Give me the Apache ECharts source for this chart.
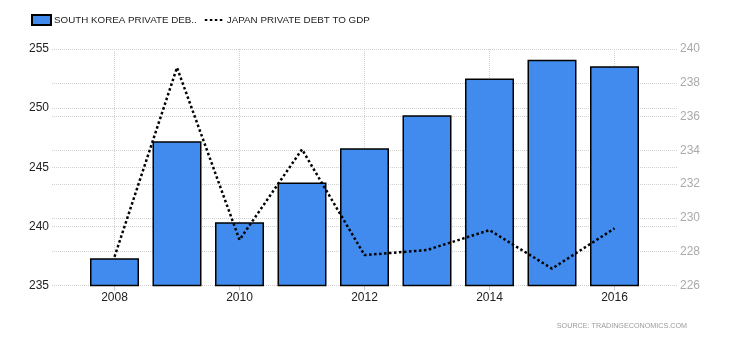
<!DOCTYPE html>
<html>
<head>
<meta charset="utf-8">
<script src="https://cdn.jsdelivr.net/npm/echarts@6/dist/echarts.min.js"></script>
<style>html,body{margin:0;padding:0;background:#fff}#c{width:730px;height:340px}</style>
</head>
<body>
<div id="c"></div>
<script>
var years = ['2008','2009','2010','2011','2012','2013','2014','2015','2016'];
var koreaDebt = [237.3, 247.2, 240.35, 243.7, 246.6, 249.4, 252.5, 254.1, 253.55];
var japanDebt = [227.7, 238.9, 228.7, 234.06, 227.8, 228.1, 229.28, 227.0, 229.38];
var leftTicks = [235, 240, 245, 250, 255];
var rightTicks = [226, 228, 230, 232, 234, 236, 238, 240];
var labeledYears = ['2008','2010','2012','2014','2016'];
var sourceText = 'SOURCE: TRADINGECONOMICS.COM';

var cats = ['2007'].concat(years).concat(['2017']);
var bars = [null].concat(koreaDebt).concat([null]);
var line = [null].concat(japanDebt).concat([null]);
function showYear(i, v) { return labeledYears.indexOf(cats[i]) >= 0; }
var font = '"Liberation Sans", Arial, sans-serif';

var chart = echarts.init(document.getElementById('c'));
chart.setOption({
  animation: false,
  textStyle: { fontFamily: font },
  grid: { left: 52, right: 53, top: 49, bottom: 54.5 },
  legend: {
    left: 31, top: 14, padding: 0,
    itemWidth: 19, itemHeight: 10, itemGap: 7,
    textStyle: { fontSize: 9.8, color: '#222', fontFamily: font, padding: [1, 0, 0, -2] },
    data: [
      { name: 'SOUTH KOREA PRIVATE DEB..', icon: 'rect' },
      { name: 'JAPAN PRIVATE DEBT TO GDP', itemStyle: { opacity: 0 } }
    ]
  },
  graphic: [{
    type: 'text', right: 43, top: 323,
    style: { text: sourceText, fill: '#9a9a9a', fontSize: 7.2, fontFamily: font }
  }],
  xAxis: {
    type: 'category', data: cats, boundaryGap: false,
    axisLine: { show: false },
    axisTick: { show: true, interval: showYear, length: 5, lineStyle: { color: '#ccc' } },
    axisLabel: { interval: showYear, color: '#222', fontSize: 12, margin: 6 },
    splitLine: { show: true, interval: showYear, lineStyle: { color: '#d0d0d0', type: 'dotted' } }
  },
  yAxis: [{
    type: 'value', min: leftTicks[0], max: leftTicks[leftTicks.length - 1], interval: 5,
    axisLine: { show: false }, axisTick: { show: false },
    axisLabel: { color: '#222', fontSize: 12, margin: 3 },
    splitLine: { lineStyle: { color: '#d0d0d0', type: 'dotted' } }
  }, {
    type: 'value', min: rightTicks[0], max: rightTicks[rightTicks.length - 1], interval: 2,
    axisLine: { show: false }, axisTick: { show: false },
    axisLabel: { color: '#aaa', fontSize: 12, margin: 3 },
    splitLine: { lineStyle: { color: '#d0d0d0', type: 'dotted' } }
  }],
  series: [{
    name: 'SOUTH KOREA PRIVATE DEB..', type: 'bar', yAxisIndex: 0,
    data: bars, barWidth: 49,
    itemStyle: { color: '#418bee', borderColor: '#000', borderWidth: 1.5 }
  }, {
    name: 'JAPAN PRIVATE DEBT TO GDP', type: 'line', yAxisIndex: 1,
    data: line, symbol: 'none', connectNulls: false,
    lineStyle: { color: '#000', width: 2.5, type: [2.5, 2.5] },
    itemStyle: { color: '#000' }
  }]
});
</script>
</body>
</html>
